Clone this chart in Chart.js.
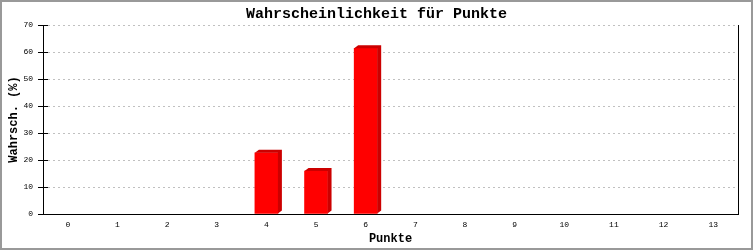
<!DOCTYPE html>
<html>
<head>
<meta charset="utf-8">
<script src="https://cdn.jsdelivr.net/npm/chart.js@4/dist/chart.umd.min.js"></script>
<style>
html,body{margin:0;padding:0;background:#fff;}
canvas{display:block;}
</style>
</head>
<body>
<canvas id="c" width="753" height="250"></canvas>
<script>
const categories = ['0','1','2','3','4','5','6','7','8','9','10','11','12','13'];
const probabilities = [0,0,0,0,22.7,15.9,61.4,0,0,0,0,0,0,0];
const yTicks = [0,10,20,30,40,50,60,70];
const titleText = 'Wahrscheinlichkeit für Punkte';
const xTitle = 'Punkte';
const yTitle = 'Wahrsch. (%)';

const MONO = "'Liberation Mono','DejaVu Sans Mono',monospace";

const frame = {
  id: 'frame',
  beforeDraw(chart) {
    const ctx = chart.ctx;
    ctx.save();
    ctx.fillStyle = '#fff';
    ctx.fillRect(0, 0, chart.width, chart.height);
    ctx.restore();
  },
  afterDraw(chart) {
    const ctx = chart.ctx;
    const a = chart.chartArea;
    ctx.save();
    ctx.strokeStyle = '#999';
    ctx.lineWidth = 2;
    ctx.strokeRect(1, 1, chart.width - 2, chart.height - 2);
    ctx.strokeStyle = '#000';
    ctx.lineWidth = 1;
    ctx.setLineDash([]);
    ctx.beginPath();
    const L = Math.round(a.left) + 0.5;
    const R = Math.round(a.right) + 0.5;
    ctx.moveTo(R, Math.round(a.top));
    ctx.lineTo(R, Math.round(a.bottom) + 1);
    ctx.moveTo(L, Math.round(a.top));
    ctx.lineTo(L, Math.round(a.bottom) + 1);
    const ys = chart.scales.y;
    ys.ticks.forEach(t => {
      const py = Math.round(ys.getPixelForValue(t.value)) + 0.5;
      ctx.moveTo(Math.round(a.left), py);
      ctx.lineTo(Math.round(a.left) + 5, py);
    });
    ctx.stroke();
    // chart title
    ctx.fillStyle = '#000';
    ctx.font = "bold 15px " + MONO;
    ctx.textAlign = 'center';
    ctx.textBaseline = 'middle';
    ctx.fillText(titleText, chart.width / 2, 14);
    ctx.restore();
  }
};

const bars3d = {
  id: 'bars3d',
  afterDatasetsDraw(chart) {
    const ctx = chart.ctx;
    const meta = chart.getDatasetMeta(0);
    const d = 4, dy = 3;
    ctx.save();
    ctx.fillStyle = '#cc0000';
    meta.data.forEach((bar, i) => {
      if (!probabilities[i]) return;
      const p = bar.getProps(['x','y','base','width'], true);
      const l = p.x - p.width / 2, r = p.x + p.width / 2;
      ctx.beginPath();
      ctx.moveTo(l, p.y);
      ctx.lineTo(l + d, p.y - dy);
      ctx.lineTo(r + d, p.y - dy);
      ctx.lineTo(r + d, p.base - dy);
      ctx.lineTo(r, p.base);
      ctx.lineTo(r, p.y);
      ctx.closePath();
      ctx.fill();
    });
    ctx.restore();
  }
};

new Chart(document.getElementById('c'), {
  type: 'bar',
  data: {
    labels: categories,
    datasets: [{
      data: probabilities,
      backgroundColor: ctx => (ctx.raw ? '#ff0000' : 'rgba(0,0,0,0)'),
      borderWidth: 0,
      barThickness: 23
    }]
  },
  options: {
    responsive: false,
    animation: false,
    devicePixelRatio: 1,
    layout: { padding: { left: 1, right: 15, top: 25, bottom: 1 } },
    plugins: {
      legend: { display: false },
      tooltip: { enabled: false },
      title: { display: false }
    },
    scales: {
      x: {
        offset: true,
        grid: { display: false, drawTicks: false },
        border: { display: true, color: '#000', width: 1 },
        ticks: {
          color: '#000',
          font: { family: MONO, size: 8 },
          padding: 6,
          maxRotation: 0,
          autoSkip: false
        },
        title: {
          display: true,
          text: xTitle,
          color: '#000',
          font: { family: MONO, size: 12, weight: 'bold', lineHeight: 1.2 },
          padding: { top: 0, bottom: 3 }
        },
        afterFit(s) { s.height = 35; }
      },
      y: {
        min: yTicks[0],
        max: yTicks[yTicks.length - 1],
        afterBuildTicks(s) { s.ticks = yTicks.map(v => ({ value: v })); },
        grid: {
          color: '#c0c0c0',
          tickColor: '#000',
          tickLength: 5,
          tickBorderDash: [1, 0],
          drawTicks: true
        },
        border: { display: false, dash: [2, 3] },
        ticks: {
          color: '#000',
          font: { family: MONO, size: 8 },
          padding: 5
        },
        title: {
          display: true,
          text: yTitle,
          color: '#000',
          font: { family: MONO, size: 12, weight: 'bold', lineHeight: 1.2 },
          padding: { top: 6, bottom: 0 }
        },
        afterFit(s) { s.width = 42; }
      }
    }
  },
  plugins: [frame, bars3d]
});
</script>
</body>
</html>
